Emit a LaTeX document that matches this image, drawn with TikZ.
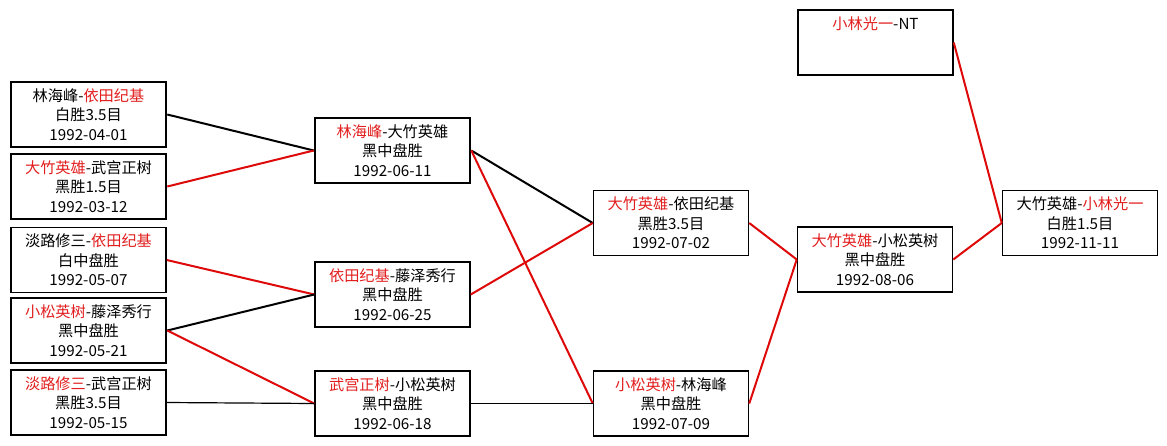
\documentclass[tikz,border=0pt]{standalone}
\usepackage{fontspec}
\setmainfont{Noto Sans CJK SC}
\definecolor{wred}{RGB}{226,30,30}
\definecolor{lred}{RGB}{222,10,10}
\newcommand{\rd}[1]{\textcolor{wred}{#1}}
\tikzset{
  game/.style={draw=black, fill=white, line width=1.5pt, minimum width=155pt, minimum height=65pt,
    inner sep=0pt, align=center, font=\fontsize{15.2}{19.5}\selectfont},
  win/.style={game, line width=2.6pt},
  redline/.style={draw=lred, line width=2pt},
  blkline/.style={draw=black, line width=2pt},
  thinline/.style={draw=black, line width=1.2pt}
}
\begin{document}
\begin{tikzpicture}[x=1pt,y=-1pt]
\useasboundingbox[fill=white] (0,0) rectangle (1167,445);
% column 1
\node[win]  (A) at (88.5,114.5) {林海峰-\rd{依田纪基}\\白胜3.5目\\1992-04-01};
\node[win]  (B) at (88.5,186.5) {\rd{大竹英雄}-武宫正树\\黑胜1.5目\\1992-03-12};
\node[game] (C) at (88.5,260)   {淡路修三-\rd{依田纪基}\\白中盘胜\\1992-05-07};
\node[win]  (D) at (88.5,330.5) {\rd{小松英树}-藤泽秀行\\黑中盘胜\\1992-05-21};
\node[game] (E) at (88.5,402.5) {\rd{淡路修三}-武宫正树\\黑胜3.5目\\1992-05-15};
% column 2
\node[win]  (F) at (392.5,150.5) {\rd{林海峰}-大竹英雄\\黑中盘胜\\1992-06-11};
\node[game] (G) at (392.5,294.5) {\rd{依田纪基}-藤泽秀行\\黑中盘胜\\1992-06-25};
\node[game] (H) at (392.5,403.5) {\rd{武宫正树}-小松英树\\黑中盘胜\\1992-06-18};
% column 3
\node[game] (I) at (671,223)   {\rd{大竹英雄}-依田纪基\\黑胜3.5目\\1992-07-02};
\node[game] (J) at (671,403.5) {\rd{小松英树}-林海峰\\黑中盘胜\\1992-07-09};
% column 4
\node[game] (K) at (875,259.5) {\rd{大竹英雄}-小松英树\\黑中盘胜\\1992-08-06};
\node[game] (L) at (875.5,42.5) {\rd{小林光一}-NT\\\mbox{}\\\mbox{}};
% column 5
\node[game] (M) at (1080,223) {大竹英雄-\rd{小林光一}\\白胜1.5目\\1992-11-11};
% connectors
\draw[blkline]  (A.east) -- (F.west);
\draw[redline]  (B.east) -- (F.west);
\draw[redline]  (C.east) -- (G.west);
\draw[blkline]  (D.east) -- (G.west);
\draw[redline]  (D.east) -- (H.west);
\draw[thinline] (E.east) -- (H.west);
\draw[blkline]  (F.east) -- (I.west);
\draw[redline]  (F.east) -- (J.west);
\draw[redline]  (G.east) -- (I.west);
\draw[thinline] (H.east) -- (J.west);
\draw[redline]  (I.east) -- (K.west);
\draw[redline]  (J.east) -- (K.west);
\draw[redline]  (K.east) -- (M.west);
\draw[redline]  (L.east) -- (M.west);
\end{tikzpicture}
\end{document}
